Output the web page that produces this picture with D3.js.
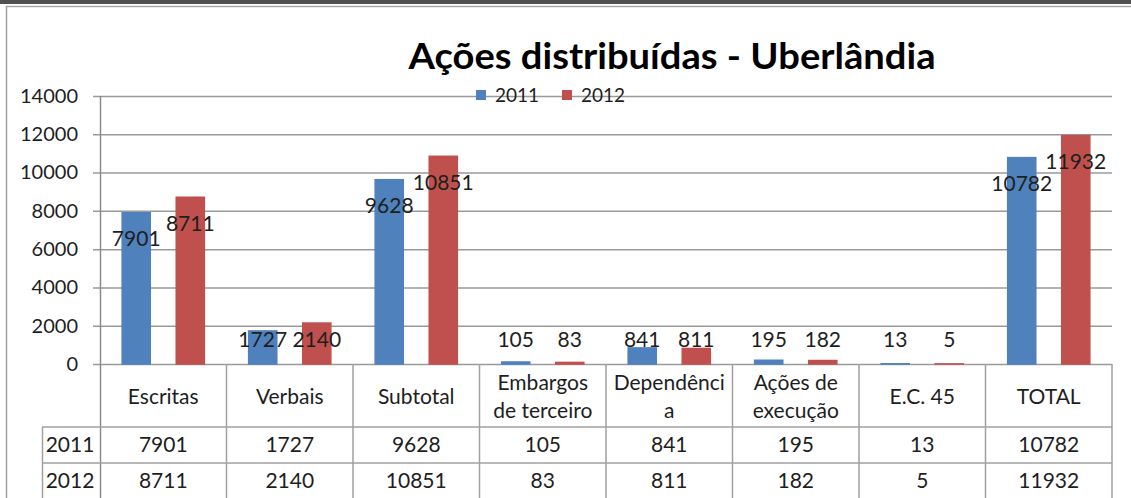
<!DOCTYPE html>
<html>
<head>
<meta charset="utf-8">
<script src="https://cdn.jsdelivr.net/npm/d3@7"></script>
<style>
  body { margin: 0; background: #fff; }
  svg text { font-family: "Lato", "Open Sans", sans-serif; fill: #1e1e1e; }
</style>
</head>
<body>
<div id="chart"></div>
<script>
// chart data
var years = ["2011", "2012"];
var categories = ["Escritas", "Verbais", "Subtotal", "Embargos de terceiro",
  "Dependência", "Ações de execução", "E.C. 45", "TOTAL"];
// how the category names wrap in the table header
var categoryLines = [["Escritas"], ["Verbais"], ["Subtotal"], ["Embargos", "de terceiro"],
  ["Dependênci", "a"], ["Ações de", "execução"], ["E.C. 45"], ["TOTAL"]];
var values2011 = [7901, 1727, 9628, 105, 841, 195, 13, 10782];
var values2012 = [8711, 2140, 10851, 83, 811, 182, 5, 11932];
var yTicks = [0, 2000, 4000, 6000, 8000, 10000, 12000, 14000];
var colors = ["#4f81bd", "#c0504d"];

var svgWidth = 1131;
var svgHeight = 498;

var plot = { left: 100, right: 1112, top: 96, bottom: 364 };
var rowLines = [427, 463, 498];

var svg = d3.select("#chart")
  .append("svg")
  .attr("width", svgWidth)
  .attr("height", svgHeight);

// outer frame of the pasted picture
svg.append("rect")
  .attr("x", 0).attr("y", 0)
  .attr("width", svgWidth).attr("height", 4)
  .attr("fill", "#505050");
svg.append("line")
  .attr("x1", 6).attr("x2", svgWidth)
  .attr("y1", 6.5).attr("y2", 6.5)
  .attr("stroke", "#a8a8a8").attr("stroke-width", 1.5);
svg.append("line")
  .attr("x1", 6.5).attr("x2", 6.5)
  .attr("y1", 6).attr("y2", svgHeight)
  .attr("stroke", "#a0a0a0").attr("stroke-width", 1.5);

// scales
var xScale = d3.scaleBand()
  .domain(categories)
  .range([plot.left, plot.right])
  .padding(0);

var xSub = d3.scaleBand()
  .domain(years)
  .range([0, xScale.bandwidth()])
  .paddingInner(0.48)
  .paddingOuter(0.41);

var yScale = d3.scaleLinear()
  .domain([0, 14000])
  .range([plot.bottom, plot.top]);

// gridlines + tick labels
var leftAxis = d3.axisLeft(yScale)
  .tickValues(yTicks)
  .tickSize(plot.right - 93)
  .tickPadding(15)
  .tickFormat(d3.format("d"));

var yAxis = svg.append("g")
  .attr("transform", `translate(${plot.right}, 0)`)
  .call(leftAxis);
yAxis.select(".domain").remove();
yAxis.selectAll(".tick line")
  .attr("stroke", "#9a9a9a")
  .attr("stroke-width", 1.5);
yAxis.selectAll(".tick text")
  .attr("font-size", "20px")
  .attr("font-family", "Lato, sans-serif")
  .attr("fill", "#1e1e1e");

// bars (thin outline in the same colour so tiny values still show)
var series = [values2011, values2012];
series.forEach(function(vals, s) {
  svg.append("g")
    .selectAll("rect")
    .data(vals)
    .enter()
    .append("rect")
    .attr("x", (d, i) => xScale(categories[i]) + xSub(years[s]))
    .attr("y", d => yScale(d))
    .attr("width", xSub.bandwidth())
    .attr("height", d => yScale(0) - yScale(d))
    .attr("fill", colors[s])
    .attr("stroke", colors[s])
    .attr("stroke-width", 1.5);
});

// data labels
series.forEach(function(vals, s) {
  svg.append("g")
    .selectAll("text")
    .data(vals)
    .enter()
    .append("text")
    .attr("x", (d, i) => xScale(categories[i]) + xSub(years[s]) + xSub.bandwidth() / 2)
    .attr("y", d => Math.min(yScale(d) + 26, yScale(0) - 24))
    .attr("dy", "0.35em")
    .attr("text-anchor", "middle")
    .attr("font-size", "21px")
    .text(d => d);
});

// y axis line, runs down as the table's left border
svg.append("line")
  .attr("x1", plot.left + 0.5).attr("x2", plot.left + 0.5)
  .attr("y1", plot.top).attr("y2", svgHeight)
  .attr("stroke", "#8c8c8c").attr("stroke-width", 1.5);

// data table
var table = svg.append("g");
var gridColor = "#a0a0a0";
var tableFont = "21px";

categories.forEach(function(c, i) {
  var x1 = xScale(c) + xScale.bandwidth();
  table.append("line")
    .attr("x1", x1).attr("x2", x1)
    .attr("y1", plot.bottom).attr("y2", svgHeight)
    .attr("stroke", gridColor).attr("stroke-width", 1.5);
});

table.append("line")
  .attr("x1", 42.5).attr("x2", 42.5)
  .attr("y1", rowLines[0]).attr("y2", svgHeight)
  .attr("stroke", gridColor).attr("stroke-width", 1.5);

rowLines.slice(0, 2).forEach(function(y) {
  table.append("line")
    .attr("x1", 42).attr("x2", plot.right)
    .attr("y1", y).attr("y2", y)
    .attr("stroke", gridColor).attr("stroke-width", 1.5);
});

// header cells
categoryLines.forEach(function(lines, i) {
  var cx = xScale(categories[i]) + xScale.bandwidth() / 2;
  var cy = (plot.bottom + rowLines[0]) / 2 + 1;
  var t = table.append("text")
    .attr("x", cx)
    .attr("text-anchor", "middle")
    .attr("font-size", tableFont);
  lines.forEach(function(line, k) {
    t.append("tspan")
      .attr("x", cx)
      .attr("y", cy + (k - (lines.length - 1) / 2) * 28)
      .attr("dy", "0.35em")
      .text(line);
  });
});

// value rows
series.forEach(function(vals, s) {
  var cy = (rowLines[s] + rowLines[s + 1]) / 2;
  table.append("text")
    .attr("x", 70)
    .attr("y", cy)
    .attr("dy", "0.35em")
    .attr("text-anchor", "middle")
    .attr("font-size", tableFont)
    .text(years[s]);
  table.selectAll(null)
    .data(vals)
    .enter()
    .append("text")
    .attr("x", (d, i) => xScale(categories[i]) + xScale.bandwidth() / 2)
    .attr("y", cy)
    .attr("dy", "0.35em")
    .attr("text-anchor", "middle")
    .attr("font-size", tableFont)
    .text(d => d);
});

// title
svg.append("text")
  .attr("x", 672)
  .attr("y", 69)
  .attr("text-anchor", "middle")
  .attr("font-size", "37px")
  .attr("font-weight", "bold")
  .attr("textLength", 527)
  .attr("lengthAdjust", "spacingAndGlyphs")
  .style("fill", "#000")
  .text("Ações distribuídas - Uberlândia");

// legend
var legend = svg.append("g");
var legendX = [476, 562];
years.forEach(function(yr, s) {
  legend.append("rect")
    .attr("x", legendX[s]).attr("y", 90)
    .attr("width", 10).attr("height", 10)
    .attr("fill", colors[s]);
  legend.append("text")
    .attr("x", legendX[s] + 19)
    .attr("y", 95)
    .attr("dy", "0.35em")
    .attr("font-size", "19px")
    .text(yr);
});
</script>
</body>
</html>
